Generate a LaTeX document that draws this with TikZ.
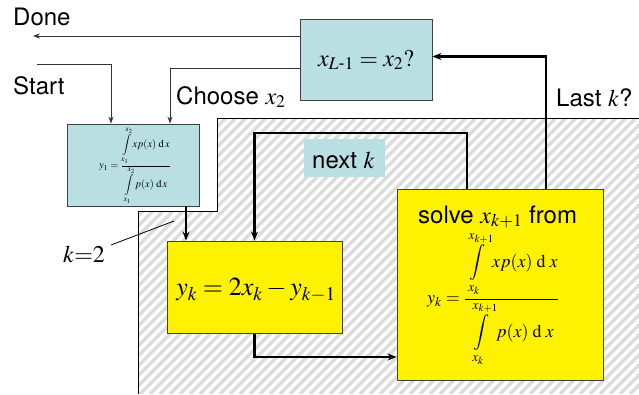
\documentclass[tikz,border=0pt]{standalone}
\usepackage{amsmath}
\usepackage{mathptmx}
\usepackage[no-math]{fontspec}
\setmainfont{TeX Gyre Heros}
\usetikzlibrary{arrows.meta}
\definecolor{boxblue}{HTML}{B9DFE3}
\definecolor{stripegray}{HTML}{DCDCDC}
\begin{document}
\begin{tikzpicture}[x=1pt,y=-1pt,
  bluebox/.style={draw=black!75, fill=boxblue, line width=0.8pt, inner sep=0pt},
  yelbox/.style={draw=black!75, fill=yellow, line width=1pt, inner sep=0pt},
  thinarrow/.style={draw=black!80, line width=0.8pt, -{Stealth[length=7pt,width=5pt]}},
  thickarrow/.style={draw=black, line width=2.2pt, -{Stealth[length=9pt,width=7pt]}},
  lbl/.style={anchor=base west, inner sep=0pt, font=\fontsize{24}{28}\selectfont},
  stripe/.style={draw=stripegray, line width=3.4pt}]
\useasboundingbox (0,0) rectangle (639,394);
\fill[white] (0,0) rectangle (639,394);
% hatched region
\begin{scope}
\clip (217,118) -- (639,118) -- (639,394) -- (138,394) -- (138,211) -- (217,211) -- cycle;
\foreach \i in {-160,-150,...,650} \draw[stripe] (\i,394) -- ++(300,-300);
\end{scope}
\draw[black, line width=0.9pt] (639,118) -- (217,118) -- (217,211) -- (138,211) -- (138,394);
% boxes
\node[bluebox, minimum width=132pt, minimum height=81pt] (top) at (366,59.5) {};
\node[inner sep=0pt, font=\fontsize{24}{28}\selectfont] (toptext) at (366,60) {$x_{L\text{-}1}=x_2?$};
\node[bluebox, minimum width=132pt, minimum height=82pt] (blue) at (133,165) {};
\node[inner sep=0pt, font=\fontsize{10.5}{12}\selectfont] (bluetext) at (135,166)
  {$\displaystyle y_1=\frac{\displaystyle\int\limits_{x_1}^{x_2} xp(x)\;\mathrm{d}\,x}{\displaystyle\int\limits_{x_1}^{x_2} p(x)\;\mathrm{d}\,x}$};
\node[yelbox, minimum width=175pt, minimum height=92pt] (y1) at (254.5,287) {};
\node[inner sep=0pt, font=\fontsize{26}{30}\selectfont] (y1text) at (256,290) {$y_k=2x_k-y_{k-1}$};
\node[yelbox, minimum width=206pt, minimum height=191pt] (y2) at (500,284.5) {};
\node[lbl] (solve) at (418,223) {solve $x_{k+1}$ from};
\node[inner sep=0pt, font=\fontsize{18}{21}\selectfont] (y2text) at (493,299)
  {$\displaystyle y_k=\frac{\displaystyle\int\limits_{x_k}^{x_{k+1}} xp(x)\;\mathrm{d}\;x}{\displaystyle\int\limits_{x_k}^{x_{k+1}} p(x)\;\mathrm{d}\;x}$};
\node[fill=boxblue, minimum width=81pt, minimum height=38pt, inner sep=0pt] (nextk) at (344.5,158) {};
\node[lbl] (nextktext) at (312,168) {next $k$};
% labels
\node[lbl] (done) at (13,25) {Done};
\node[lbl] (start) at (13,94) {Start};
\node[lbl] (choose) at (176,104) {Choose $x_2$};
\node[lbl] (lastk) at (556,106) {Last $k$?};
\node[lbl] (k2) at (63,262) {$k{=}2$};
% connectors
\coordinate (doneend) at (33,36);
\coordinate (startbeg) at (37,64);
\coordinate (loopy) at (0,133);
\coordinate (leadA) at (111,245);
\coordinate (leadB) at (174,221);
\draw[thinarrow] (doneend -| top.west) -- (doneend);
\draw[thinarrow] (startbeg) -| ([xshift=-22pt]blue.north);
\draw[thinarrow] ([yshift=-8.5pt]top.west) -| ([xshift=37pt]blue.north);
\draw[thickarrow, line width=1.8pt] ([xshift=53pt]blue.south) -- ([xshift=53pt]blue.south |- y1.north);
\draw[thickarrow] ([xshift=-33pt]y2.north) -- ([xshift=-33pt]y2.north |- loopy) -| (y1.north);
\draw[thickarrow] (y1.south) |- ([yshift=-72.5pt]y2.west);
\draw[thickarrow] ([xshift=45.7pt]y2.north) |- ([yshift=3pt]top.east);
\draw[black, line width=0.8pt] (leadA) -- (leadB);
\end{tikzpicture}
\end{document}
